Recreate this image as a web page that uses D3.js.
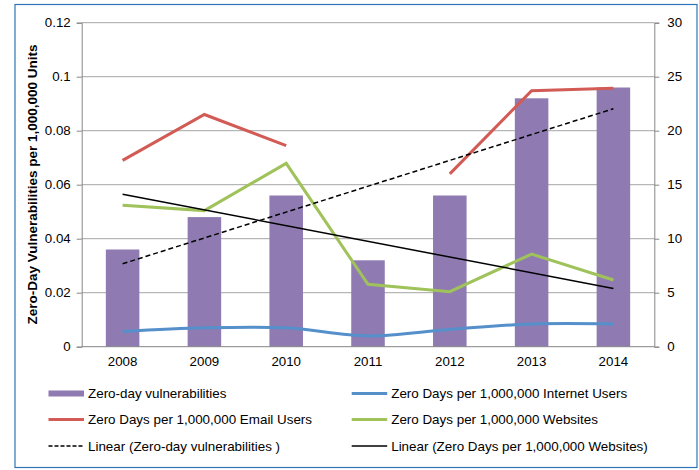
<!DOCTYPE html>
<meta charset="utf-8">
<script src="https://d3js.org/d3.v7.min.js"></script>
<style>
  body { margin: 0; background: #fff; }
  svg text { font-family: "Liberation Sans", Arial, sans-serif; fill: #000; }
</style>
<div id="my_dataviz"></div>
<script>

  // data
  var years = ["2008", "2009", "2010", "2011", "2012", "2013", "2014"];
  var zeroDays = [9, 12, 14, 8, 14, 23, 24];                                   // right axis
  var perInternetUser = [0.0056, 0.007, 0.007, 0.004, 0.0064, 0.0084, 0.0084];  // left axis
  var perEmailUser = [0.069, 0.086, 0.0745, null, 0.064, 0.0948, 0.0957];
  var perWebsite = [0.0524, 0.0504, 0.0679, 0.0231, 0.0204, 0.0343, 0.0247];
  var leftTicks = [0, 0.02, 0.04, 0.06, 0.08, 0.1, 0.12];
  var rightTicks = [0, 5, 10, 15, 20, 25, 30];

  var W = 699, H = 470;
  var margin = { top: 22.7, right: 44.7, bottom: 123.3, left: 81.7 },
    width = W - margin.left - margin.right,
    height = H - margin.top - margin.bottom;

  var svg = d3.select("#my_dataviz")
    .append("svg")
    .attr("width", W)
    .attr("height", H);

  // chart border
  svg.append("rect")
    .attr("x", 15).attr("y", 4.5)
    .attr("width", 682).attr("height", 463)
    .attr("fill", "none")
    .attr("stroke", "#2E75B6")
    .attr("stroke-width", 1.2);

  var g = svg.append("g")
    .attr("transform", "translate(" + margin.left + "," + margin.top + ")");

  var x = d3.scaleBand().domain(years).range([0, width]);
  var yL = d3.scaleLinear().domain([0, 0.12]).range([height, 0]);
  var yR = d3.scaleLinear().domain([0, 30]).range([height, 0]);
  var cx = function (i) { return x(years[i]) + x.bandwidth() / 2; };

  // gridlines
  g.append("g")
    .selectAll("line")
    .data(leftTicks.slice(1))
    .enter()
    .append("line")
    .attr("x1", 0).attr("x2", width)
    .attr("y1", d => yL(d)).attr("y2", d => yL(d))
    .style("stroke", "#a6a6a6");

  // bars
  var barW = x.bandwidth() * 0.41;
  g.append("g")
    .selectAll("rect")
    .data(zeroDays)
    .enter()
    .append("rect")
    .attr("x", (d, i) => cx(i) - barW / 2)
    .attr("width", barW)
    .attr("y", d => yR(d))
    .attr("height", d => height - yR(d))
    .attr("fill", "#8F7BB2");

  // axes
  var axisL = g.append("g")
    .call(d3.axisLeft(yL).tickValues(leftTicks).tickSize(5).tickPadding(6)
      .tickFormat(d => d === 0 ? "0" : String(+d.toFixed(2))));
  var axisR = g.append("g")
    .attr("transform", "translate(" + width + ",0)")
    .call(d3.axisRight(yR).tickValues(rightTicks).tickSize(5).tickPadding(8));
  var axisB = g.append("g")
    .attr("transform", "translate(0," + height + ")")
    .call(d3.axisBottom(x).tickSize(0).tickPadding(10));

  [axisL, axisR, axisB].forEach(function (a) {
    a.selectAll("path").attr("stroke", "#868686");
    a.selectAll("line").attr("stroke", "#868686");
    a.selectAll("text").style("font-size", "13.3px").attr("fill", "#000");
  });
  axisB.select("path").attr("d", "M0,0H" + width);

  // lines
  var lineL = d3.line()
    .defined(d => d != null)
    .x((d, i) => cx(i))
    .y(d => yL(d));

  g.append("path")
    .datum(perInternetUser)
    .attr("d", lineL.curve(d3.curveCatmullRom))
    .attr("fill", "none").attr("stroke", "#5590CB").attr("stroke-width", 3);

  lineL.curve(d3.curveLinear);

  g.append("path")
    .datum(perEmailUser)
    .attr("d", lineL)
    .attr("fill", "none").attr("stroke", "#D25B55").attr("stroke-width", 3);

  g.append("path")
    .datum(perWebsite)
    .attr("d", lineL)
    .attr("fill", "none").attr("stroke", "#9FC35A").attr("stroke-width", 3);

  // linear trendlines (least squares, like the spreadsheet does)
  function fit(vals) {
    var n = vals.length, mx = (n + 1) / 2, my = d3.mean(vals);
    var sxy = d3.sum(vals, (v, i) => (i + 1 - mx) * (v - my));
    var sxx = d3.sum(vals, (v, i) => (i + 1 - mx) * (i + 1 - mx));
    var b = sxy / sxx;
    return [my + b * (1 - mx), my + b * (n - mx)];
  }
  var t1 = fit(zeroDays), t2 = fit(perWebsite);

  g.append("line")
    .attr("x1", cx(0)).attr("x2", cx(6))
    .attr("y1", yR(t1[0])).attr("y2", yR(t1[1]))
    .attr("stroke", "#000").attr("stroke-width", 1.5)
    .attr("stroke-dasharray", "5,3");

  g.append("line")
    .attr("x1", cx(0)).attr("x2", cx(6))
    .attr("y1", yL(t2[0])).attr("y2", yL(t2[1]))
    .attr("stroke", "#000").attr("stroke-width", 1.5);

  // y axis title
  svg.append("text")
    .attr("transform", "translate(36.5,184.5) rotate(-90)")
    .attr("text-anchor", "middle")
    .style("font-size", "13.5px")
    .style("font-weight", "bold")
    .text("Zero-Day Vulnerabilities per 1,000,000 Units");

  // legend
  var legend = [
    { name: "Zero-day vulnerabilities", type: "bar", color: "#8F7BB2", col: 0, row: 0 },
    { name: "Zero Days per 1,000,000 Internet Users", type: "line", color: "#5590CB", col: 1, row: 0 },
    { name: "Zero Days per 1,000,000 Email Users", type: "line", color: "#D25B55", col: 0, row: 1 },
    { name: "Zero Days per 1,000,000 Websites", type: "line", color: "#9FC35A", col: 1, row: 1 },
    { name: "Linear (Zero-day vulnerabilities )", type: "dash", color: "#000", col: 0, row: 2 },
    { name: "Linear (Zero Days per 1,000,000 Websites)", type: "trend", color: "#000", col: 1, row: 2 }
  ];
  var colX = [48.5, 351.7], rowY = [393.5, 419.5, 446];

  var items = svg.append("g")
    .selectAll("g")
    .data(legend)
    .enter()
    .append("g")
    .attr("transform", d => "translate(" + colX[d.col] + "," + rowY[d.row] + ")");

  items.each(function (d) {
    var it = d3.select(this);
    if (d.type === "bar") {
      it.append("rect").attr("x", 0).attr("y", -3).attr("width", 35.5).attr("height", 6).attr("fill", d.color);
    } else {
      it.append("line").attr("x1", 0).attr("x2", 35.5).attr("y1", 0).attr("y2", 0)
        .attr("stroke", d.color)
        .attr("stroke-width", d.type === "line" ? 3 : 1.5)
        .attr("stroke-dasharray", d.type === "dash" ? "4,2" : null);
    }
    it.append("text")
      .attr("x", 39.5)
      .attr("dy", "0.35em")
      .style("font-size", "13.4px")
      .text(d.name);
  });

</script>
